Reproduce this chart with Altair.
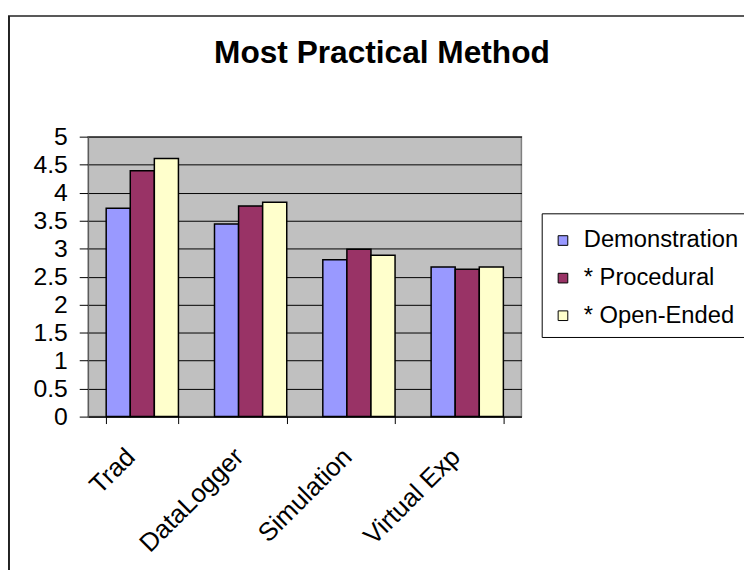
import altair as alt
import pandas as pd

categories = ["Trad", "DataLogger", "Simulation", "Virtual Exp"]
series = ["Demonstration", "* Procedural", "* Open-Ended"]
demonstration = [3.72, 3.44, 2.80, 2.67]
procedural = [4.39, 3.76, 2.99, 2.63]
open_ended = [4.61, 3.83, 2.88, 2.67]
colors = ["#9999FF", "#993366", "#FFFFCC"]
y_ticks = [0, 0.5, 1, 1.5, 2, 2.5, 3, 3.5, 4, 4.5, 5]

rows = []
for name, vals in zip(series, [demonstration, procedural, open_ended]):
    for c, v in zip(categories, vals):
        rows.append({"Method": c, "Series": name, "Value": v})
df = pd.DataFrame(rows)

FONT = "Liberation Sans"

bars = alt.Chart(df).mark_bar(stroke="black", strokeWidth=1.5).encode(
    x=alt.X("Method:N", sort=categories, title=None,
            scale=alt.Scale(paddingInner=0.333, paddingOuter=0.1667),
            axis=alt.Axis(labelAngle=-45, labelAlign="right", labelBaseline="top",
                          labelFontSize=26, labelFont=FONT, labelColor="black",
                          labelPadding=20, labelOffset=-21,
                          tickBand="extent", tickSize=7, tickColor="black",
                          domainColor="black", domainWidth=1, grid=False)),
    xOffset=alt.XOffset("Series:N", sort=series, scale=alt.Scale(paddingInner=0, paddingOuter=0)),
    y=alt.Y("Value:Q", title=None,
            scale=alt.Scale(domain=[0, 5], nice=False),
            axis=alt.Axis(values=y_ticks, format=".1~f", labelFontSize=25, labelFont=FONT,
                          labelColor="black", labelPadding=12, tickSize=9, tickColor="black",
                          domainColor="#555555", grid=True, gridColor="black", gridWidth=1)),
    color=alt.Color("Series:N", sort=series,
                    scale=alt.Scale(domain=series, range=colors),
                    legend=alt.Legend(title=None,
                                      orient="none", legendX=456, legendY=81,
                                      symbolType="square", symbolSize=95,
                                      symbolStrokeColor="black", symbolStrokeWidth=1,
                                      labelFontSize=24, labelFont=FONT, labelColor="black",
                                      labelOffset=9, rowPadding=14, padding=12)),
)

frame_df = pd.DataFrame({"k": [0]})
left_border = alt.Chart(frame_df).mark_rule(color="#222222", strokeWidth=2).encode(
    x=alt.value(-80), y=alt.value(-122), y2=alt.value(600)
)
top_border = alt.Chart(frame_df).mark_rule(color="#222222", strokeWidth=1.5).encode(
    x=alt.value(-81), x2=alt.value(800), y=alt.value(-122)
)
legend_box = alt.Chart(frame_df).mark_rect(fill="white", stroke="black", strokeWidth=1).encode(
    x=alt.value(459), x2=alt.value(720), y=alt.value(78), y2=alt.value(203)
)

chart = alt.layer(bars, left_border, top_border, legend_box).properties(
    width=438, height=283,
    autosize=alt.AutoSizeParams(type="none"),
    padding={"left": 81, "top": 127, "right": 225, "bottom": 152},
    background="white",
    title=alt.TitleParams("Most Practical Method", fontSize=32, fontWeight="bold",
                          font=FONT, color="black", anchor="middle", dx=78, dy=81,
                          baseline="alphabetic", offset=0),
).configure_view(
    fill="#C0C0C0", stroke="#808080", strokeWidth=1.5
)

chart.save("out.html", embed_options={"renderer": "svg", "actions": False})
